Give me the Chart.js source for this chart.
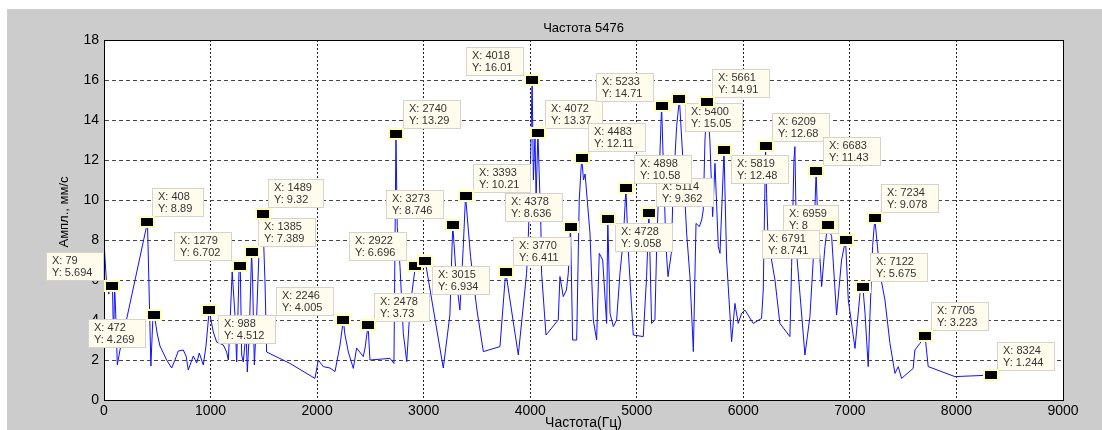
<!DOCTYPE html>
<html>
<head>
<meta charset="utf-8">
<script src="https://cdn.jsdelivr.net/npm/chart.js@4/dist/chart.umd.min.js"></script>
<style>
  html, body { margin: 0; padding: 0; background: #fff; }
  canvas { display: block; }
</style>
</head>
<body>
<canvas id="chart" width="1102" height="430"></canvas>
<script>
const titleText = "Частота 5476";
const xTitle = "Частота(Гц)";
const yTitle = "Ампл., мм/с";

// spectrum trace (Hz / mm/s)
const freqs = [0, 22, 45, 60, 79, 90, 100, 110, 125, 150, 408, 420, 440, 458, 472, 500, 525, 557, 588, 635,
  666, 697, 744, 770, 791, 838, 870, 894, 932, 957, 988, 1000, 1026, 1057, 1120, 1151, 1167, 1182, 1203, 1229,
  1245, 1267, 1279, 1292, 1307, 1333, 1345, 1364, 1385, 1395, 1411, 1433, 1464, 1489, 1511, 1526, 1745, 1980, 2011, 2058,
  2121, 2168, 2215, 2246, 2260, 2293, 2340, 2371, 2433, 2450, 2478, 2496, 2684, 2721, 2740, 2752, 2778, 2809, 2841, 2873,
  2922, 3015, 3184, 3246, 3273, 3309, 3340, 3371, 3393, 3440, 3500, 3560, 3716, 3770, 3888, 3966, 3982, 4000, 4018, 4030,
  4045, 4055, 4072, 4100, 4107, 4148, 4263, 4279, 4310, 4340, 4357, 4378, 4398, 4436, 4460, 4483, 4500, 4515, 4561, 4592,
  4623, 4648, 4680, 4717, 4728, 4749, 4780, 4811, 4842, 4873, 4898, 4920, 4967, 5061, 5092, 5114, 5139, 5170, 5186, 5233,
  5248, 5274, 5293, 5324, 5340, 5374, 5400, 5431, 5468, 5499, 5531, 5556, 5587, 5609, 5624, 5640, 5661, 5686, 5712, 5734,
  5765, 5781, 5819, 5843, 5890, 5921, 5952, 5984, 6015, 6093, 6171, 6187, 6209, 6218, 6234, 6265, 6297, 6343, 6437, 6453,
  6475, 6484, 6500, 6531, 6578, 6625, 6656, 6683, 6700, 6735, 6766, 6791, 6829, 6875, 6922, 6959, 6985, 7048, 7095, 7122,
  7142, 7172, 7188, 7213, 7234, 7282, 7329, 7376, 7423, 7454, 7485, 7594, 7610, 7657, 7705, 7735, 7985, 8324];
const amps = [7.9, 6.0, 5.3, 5.9, 5.694, 3.0, 5.7, 4.3, 1.75, 2.5, 8.89, 6.2, 1.7, 4.0, 4.269, 3.3, 2.7, 2.35, 2.0, 1.6,
  2.0, 2.45, 2.5, 2.2, 1.5, 2.2, 1.85, 2.35, 1.75, 2.7, 4.512, 4.1, 3.4, 2.9, 2.75, 2.4, 2.0, 3.75, 6.4, 4.25,
  1.9, 6.4, 6.702, 2.25, 1.9, 3.4, 1.4, 3.4, 7.389, 5.9, 1.75, 4.25, 8.75, 9.32, 5.9, 2.4, 1.83, 1.08, 2.0, 1.67,
  1.6, 1.42, 2.75, 4.005, 3.3, 2.4, 1.58, 2.6, 2.17, 2.6, 3.73, 2.0, 2.08, 1.83, 13.29, 8.67, 6.67, 3.33, 1.92, 4.67,
  6.696, 6.934, 1.6, 4.25, 8.746, 5.9, 4.5, 7.58, 10.21, 7.17, 4.5, 2.42, 2.67, 6.411, 2.25, 6.33, 8.17, 11.0, 16.01, 11.0,
  13.3, 10.0, 13.37, 8.67, 6.33, 3.25, 4.0, 6.17, 5.17, 5.5, 6.33, 8.636, 3.0, 3.0, 10.0, 12.11, 11.0, 11.3, 8.33, 4.0,
  3.0, 7.33, 7.0, 3.83, 9.058, 4.33, 3.67, 4.0, 6.33, 8.0, 10.58, 7.5, 3.25, 3.17, 6.17, 9.362, 3.83, 4.0, 7.5, 14.71,
  12.0, 7.67, 6.17, 7.33, 10.33, 13.67, 15.05, 12.17, 8.33, 6.17, 2.42, 8.83, 8.67, 9.0, 9.5, 13.0, 14.91, 13.0, 9.17, 11.83,
  7.67, 7.33, 12.48, 7.0, 2.92, 4.83, 3.83, 4.33, 4.5, 3.83, 4.08, 5.5, 12.68, 10.33, 7.67, 7.0, 6.0, 3.83, 3.17, 6.67,
  12.0, 12.67, 7.33, 5.33, 2.25, 4.17, 7.0, 11.43, 8.67, 5.67, 7.67, 8.741, 8.17, 4.25, 7.0, 8.0, 5.0, 2.58, 5.33, 5.675,
  4.33, 1.67, 4.17, 7.67, 9.078, 6.33, 5.0, 2.83, 1.33, 1.67, 1.08, 1.58, 2.5, 2.83, 3.223, 1.67, 1.17, 1.244];

// data tips (drawn in this order)
const tipFreqs = [79, 472, 408, 988, 1279, 1385, 1489, 2246, 2478, 2922, 2740, 3015, 3273, 3393, 4018, 4072, 4378,
  3770, 4483, 5233, 5114, 4898, 4728, 5400, 5661, 5819, 6209, 6683, 6959, 6791, 7234, 7122, 7705, 8324];
const tipAmps = ["5.694", "4.269", "8.89", "4.512", "6.702", "7.389", "9.32", "4.005", "3.73", "6.696", "13.29", "6.934",
  "8.746", "10.21", "16.01", "13.37", "8.636", "6.411", "12.11", "14.71", "9.362", "10.58", "9.058", "15.05", "14.91",
  "12.48", "12.68", "11.43", "8", "8.741", "9.078", "5.675", "3.223", "1.244"];
// label box offset from its marker, px
const tipBoxOffsets = [[-66, -34], [-66, 4], [5, -34], [9, 5], [-66, -34], [6, -34], [5, -35], [-67, -33], [6, -32],
  [-66, -34], [7, -34], [7, 5], [-67, -35], [7, -32], [-66, -33], [7, -33], [-66, -34], [7, -35], [6, -35], [-66, -33],
  [7, -35], [8, -33], [7, 4], [6, 4], [5, -33], [7, 5], [6, -33], [7, -34], [-63, -35], [-66, 5], [6, -34], [7, -34],
  [6, -34], [6, -33]];

const points = freqs.map((f, i) => ({ x: f, y: amps[i] }));
const FONT = '"Liberation Sans", Arial, sans-serif';

const figure = {
  id: "figure",
  beforeDraw(chart) {
    const c = chart.ctx, a = chart.chartArea;
    c.save();
    c.fillStyle = "#fff";
    c.fillRect(0, 0, chart.width, chart.height);
    c.fillStyle = "#cccccc";
    c.fillRect(7, 9, chart.width - 7, chart.height - 9);
    c.fillStyle = "#fff";
    c.fillRect(a.left, a.top, a.right - a.left, a.bottom - a.top);
    c.restore();
  },
  afterDraw(chart) {
    const c = chart.ctx, a = chart.chartArea;
    const xs = chart.scales.x, ys = chart.scales.y;
    c.save();
    // axes box
    c.strokeStyle = "#000";
    c.lineWidth = 1;
    c.strokeRect(a.left + 0.5, a.top + 0.5, a.right - a.left, a.bottom - a.top);

    // titles
    c.fillStyle = "#000";
    c.textAlign = "center";
    c.textBaseline = "middle";
    c.font = `13px ${FONT}`;
    c.fillText(titleText, (a.left + a.right) / 2, 28);
    c.font = `14px ${FONT}`;
    c.fillText(xTitle, (a.left + a.right) / 2, 423);
    c.save();
    c.translate(64, 212);
    c.rotate(-Math.PI / 2);
    c.font = `13px ${FONT}`;
    c.fillText(yTitle, 0, 0);
    c.restore();

    // datatip boxes
    c.font = `11px ${FONT}`;
    c.textAlign = "left";
    tipFreqs.forEach((f, i) => {
      const px = xs.getPixelForValue(f);
      const py = ys.getPixelForValue(parseFloat(tipAmps[i]));
      const l1 = `X: ${f}`, l2 = `Y: ${tipAmps[i]}`;
      const w = Math.round(Math.max(c.measureText(l1).width, c.measureText(l2).width) + 18);
      const bx = Math.round(px + tipBoxOffsets[i][0]), by = Math.round(py + tipBoxOffsets[i][1]);
      c.fillStyle = "#fffcee";
      c.fillRect(bx, by, w, 29);
      c.strokeStyle = "#d6d3cc";
      c.strokeRect(bx + 0.5, by + 0.5, w - 1, 28);
      c.fillStyle = "#333";
      c.fillText(l1, bx + 6, by + 9);
      c.fillText(l2, bx + 6, by + 21);
    });
    // datatip markers
    tipFreqs.forEach((f, i) => {
      const px = Math.round(xs.getPixelForValue(f));
      const py = Math.round(ys.getPixelForValue(parseFloat(tipAmps[i])));
      c.fillStyle = "#ffffb4";
      c.fillRect(px - 8, py - 6, 16, 12);
      c.fillStyle = "#000";
      c.fillRect(px - 6, py - 4, 12, 8);
    });
    c.restore();
  }
};

new Chart(document.getElementById("chart"), {
  type: "line",
  data: {
    datasets: [{
      data: points,
      borderColor: "#1010ff",
      borderWidth: 1,
      pointRadius: 0,
      tension: 0,
      fill: false,
    }],
  },
  options: {
    responsive: false,
    animation: false,
    layout: { padding: { top: 40, right: 39, left: 0, bottom: 0 } },
    plugins: { legend: { display: false }, tooltip: { enabled: false }, title: { display: false } },
    scales: {
      x: {
        type: "linear", min: 0, max: 9000,
        ticks: {
          stepSize: 1000, color: "#000", font: { family: FONT, size: 14 }, padding: 3, maxRotation: 0,
          callback: (v) => String(v),
        },
        grid: { color: "#222", drawTicks: false },
        border: { color: "#000", dash: [2, 2] },
        afterFit(s) { s.height = 30; },
      },
      y: {
        min: 0, max: 18,
        ticks: { stepSize: 2, color: "#000", font: { family: FONT, size: 14 }, padding: 5, callback: (v) => String(v) },
        grid: { color: "#444", drawTicks: false },
        border: { color: "#000", dash: [4, 3] },
        afterFit(s) { s.width = 104; },
      },
    },
  },
  plugins: [figure],
});
</script>
</body>
</html>
